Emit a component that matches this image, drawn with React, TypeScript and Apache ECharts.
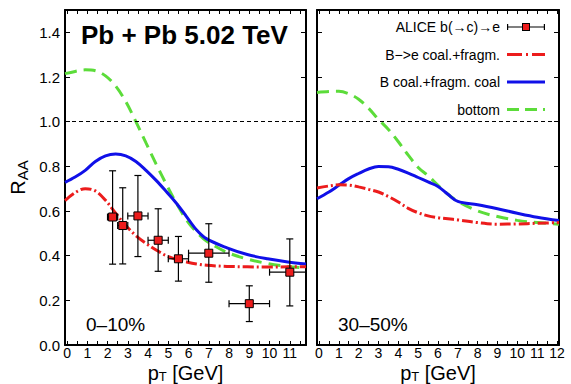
import React, { useEffect, useRef } from "react";
import * as echarts from "echarts";

const FONT = '"Liberation Sans", Arial, Helvetica, sans-serif';

// ---- Model curves, 0-10% (left panel) ----
const ptLeft = [-0.1, 0.4, 0.9, 1.4, 1.9, 2.4, 2.9, 3.4, 3.9, 4.4, 4.9, 5.4, 5.9, 6.4, 6.9, 7.9, 8.9, 9.9, 10.9, 11.8];
const bfragLeft = [0.647, 0.682, 0.7, 0.69, 0.648, 0.59, 0.535, 0.49, 0.455, 0.425, 0.4, 0.383, 0.372, 0.363, 0.357, 0.352, 0.35, 0.349, 0.35, 0.35];
const coalLeft = [0.728, 0.752, 0.782, 0.822, 0.847, 0.855, 0.847, 0.822, 0.782, 0.737, 0.687, 0.635, 0.575, 0.515, 0.475, 0.435, 0.405, 0.386, 0.372, 0.363];
const bottomLeft = [1.215, 1.225, 1.232, 1.228, 1.205, 1.16, 1.09, 1.0, 0.905, 0.81, 0.72, 0.635, 0.56, 0.505, 0.465, 0.415, 0.385, 0.365, 0.352, 0.345];

// ---- Model curves, 30-50% (right panel) ----
const ptRight = [-0.1, 0.5, 1, 1.5, 2, 2.5, 3, 3.5, 4, 4.5, 5, 5.5, 6, 6.5, 7, 8, 9, 10, 11, 12.1];
const bfragRight = [0.703, 0.712, 0.717, 0.716, 0.708, 0.697, 0.685, 0.665, 0.64, 0.612, 0.592, 0.578, 0.57, 0.565, 0.56, 0.548, 0.541, 0.542, 0.545, 0.548];
const coalRight = [0.655, 0.685, 0.715, 0.745, 0.768, 0.788, 0.799, 0.798, 0.787, 0.77, 0.75, 0.73, 0.71, 0.675, 0.643, 0.628, 0.61, 0.59, 0.572, 0.557];
const bottomRight = [1.131, 1.135, 1.136, 1.125, 1.1, 1.06, 1.01, 0.965, 0.91, 0.85, 0.795, 0.758, 0.715, 0.675, 0.643, 0.6, 0.575, 0.558, 0.548, 0.541];

// ---- ALICE b(->c)->e data, 0-10% ----
const alicePt = [2.25, 2.75, 3.5, 4.5, 5.5, 7, 9, 11];
const alicePtLow = [2, 2.5, 3, 4, 5, 6, 8, 10];
const alicePtHigh = [2.5, 3, 4, 5, 6, 8, 10, 12];
const aliceRaa = [0.573, 0.535, 0.578, 0.469, 0.386, 0.411, 0.185, 0.326];
const aliceRaaLow = [0.362, 0.363, 0.396, 0.33, 0.286, 0.281, 0.105, 0.175];
const aliceRaaHigh = [0.78, 0.704, 0.759, 0.61, 0.486, 0.543, 0.265, 0.475];

// ---- Axes ----
const xTickValues = [0, 0.5, 1, 1.5, 2, 2.5, 3, 3.5, 4, 4.5, 5, 5.5, 6, 6.5, 7, 7.5, 8, 8.5, 9, 9.5, 10, 10.5, 11, 11.5, 12];
const xLabelsLeft = [0, 1, 2, 3, 4, 5, 6, 7, 8, 9, 10, 11];
const xLabelsRight = [0, 1, 2, 3, 4, 5, 6, 7, 8, 9, 10, 11, 12];
const yTickValues = [0, 0.2, 0.4, 0.6, 0.8, 1.0, 1.2, 1.4];
const xRangeLeft = [-0.1, 11.8];
const xRangeRight = [-0.1, 12.1];
const yRange = [0, 1.5];

const NAME_ALICE = "ALICE b(\u2192c)\u2192e";
const NAME_BFRAG = "B\u2212>e coal.+fragm.";
const NAME_COAL = "B coal.+fragm. coal";
const NAME_BOTTOM = "bottom";

const RED = "#ec1c1c";
const BLUE = "#1010e8";
const GREEN = "#5cdc3a";

const DASH_RED = [11, 3, 2, 3];
const DASH_GREEN = [12, 7];

function svgIcon(inner: string) {
  const svg =
    '<svg xmlns="http://www.w3.org/2000/svg" width="38" height="14" viewBox="0 0 38 14">' + inner + "</svg>";
  return "image://data:image/svg+xml;charset=utf-8," + encodeURIComponent(svg);
}

const aliceIcon = svgIcon(
  '<g stroke="#000" stroke-width="1.2"><line x1="0.6" y1="7" x2="37.4" y2="7"/>' +
    '<line x1="0.6" y1="4" x2="0.6" y2="10"/><line x1="37.4" y1="4" x2="37.4" y2="10"/></g>' +
    '<rect x="15.5" y="3.5" width="7" height="7" fill="' + RED + '" stroke="#000" stroke-width="1"/>'
);
const redIcon = svgIcon(
  '<line x1="0" y1="7" x2="38" y2="7" stroke="' + RED + '" stroke-width="3" stroke-dasharray="15,4,2,4"/>'
);
const blueIcon = svgIcon('<line x1="0" y1="7" x2="38" y2="7" stroke="' + BLUE + '" stroke-width="3"/>');
const greenIcon = svgIcon(
  '<line x1="0" y1="7" x2="38" y2="7" stroke="' + GREEN + '" stroke-width="3" stroke-dasharray="12,6"/>'
);

function xAxis(gridIndex: number, range: number[], position: string, labels: number[] | null) {
  return {
    type: "value",
    gridIndex,
    min: range[0],
    max: range[1],
    position,
    axisLine: { show: true, onZero: false, lineStyle: { color: "#000", width: 2 } },
    axisTick: {
      show: true,
      inside: true,
      length: 4,
      customValues: xTickValues.filter((v) => v >= range[0] && v <= range[1]),
      lineStyle: { color: "#000", width: 1 },
    },
    axisLabel: labels
      ? {
          show: true,
          customValues: labels,
          formatter: (v: number) => String(v),
          color: "#000",
          fontSize: 14,
          lineHeight: 14,
          fontFamily: FONT,
          margin: 1,
        }
      : { show: false },
    splitLine: { show: false },
    ...(labels
      ? {
          name: "{p|p}{s|T}{p| [GeV]}",
          nameLocation: "middle",
          nameGap: 18,
          nameMoveOverlap: false,
          nameTextStyle: {
            rich: {
              p: { fontSize: 20, lineHeight: 20, fontFamily: FONT, color: "#000" },
              s: { fontSize: 13, lineHeight: 12, fontFamily: FONT, color: "#000", verticalAlign: "bottom" },
            },
          },
        }
      : {}),
  };
}

function yAxis(gridIndex: number, position: string, showLabels: boolean) {
  return {
    type: "value",
    gridIndex,
    min: yRange[0],
    max: yRange[1],
    position,
    axisLine: { show: true, onZero: false, lineStyle: { color: "#000", width: 2 } },
    axisTick: {
      show: true,
      inside: true,
      length: 5,
      customValues: yTickValues,
      lineStyle: { color: "#000", width: 1 },
    },
    axisLabel: showLabels
      ? {
          show: true,
          customValues: yTickValues,
          formatter: (v: number) => v.toFixed(1),
          color: "#000",
          fontSize: 15,
          fontFamily: FONT,
          margin: 5,
        }
      : { show: false },
    splitLine: { show: false },
    ...(showLabels
      ? {
          name: "{r|R}{s|AA}",
          nameLocation: "middle",
          nameRotate: 90,
          nameGap: 35,
          nameTextStyle: {
            rich: {
              r: { fontSize: 20, lineHeight: 24, fontFamily: FONT, color: "#000" },
              s: { fontSize: 15, lineHeight: 11, fontFamily: FONT, color: "#000", verticalAlign: "bottom" },
            },
          },
        }
      : {}),
  };
}

function curve(name: string, xs: number[], ys: number[], color: string, dash: any, xi: number, yi: number, extra: any = {}) {
  return {
    type: "line",
    name,
    xAxisIndex: xi,
    yAxisIndex: yi,
    data: xs.map((x, i) => [x, ys[i]]),
    smooth: 0.35,
    symbol: "none",
    showSymbol: false,
    clip: true,
    lineStyle: { color, width: 3, type: dash, cap: "butt" },
    itemStyle: { color },
    z: 3,
    ...extra,
  };
}

const unityLine = {
  silent: true,
  symbol: "none",
  label: { show: false },
  lineStyle: { color: "#000", width: 1, type: [4, 3] },
  data: [{ yAxis: 1.0 }],
};

export default function App() {
  const ref = useRef<HTMLDivElement>(null);

  useEffect(() => {
    if (!ref.current) return;
    const chart = echarts.init(ref.current, null, { renderer: "svg" });

    const errData = alicePt.map((x, i) => [x, aliceRaa[i], alicePtLow[i], alicePtHigh[i], aliceRaaLow[i], aliceRaaHigh[i]]);

    const option: any = {
      animation: false,
      backgroundColor: "#fff",
      textStyle: { fontFamily: FONT },
      grid: [
        { left: 65, top: 10, width: 241, height: 335, containLabel: false, outerBoundsMode: "none" },
        { left: 317, top: 10, width: 242, height: 335, containLabel: false, outerBoundsMode: "none" },
      ],
      xAxis: [
        xAxis(0, xRangeLeft, "bottom", xLabelsLeft),
        xAxis(0, xRangeLeft, "top", null),
        xAxis(1, xRangeRight, "bottom", xLabelsRight),
        xAxis(1, xRangeRight, "top", null),
      ],
      yAxis: [yAxis(0, "left", true), yAxis(0, "right", false), yAxis(1, "left", false), yAxis(1, "right", false)],
      legend: {
        orient: "vertical",
        align: "right",
        right: 21,
        top: 15,
        itemWidth: 38,
        itemHeight: 14,
        itemGap: 13.5,
        textStyle: { fontSize: 14, fontFamily: FONT, color: "#000", padding: [0, 2, 0, 0] },
        selectedMode: false,
        data: [
          { name: NAME_ALICE, icon: aliceIcon },
          { name: NAME_BFRAG, icon: redIcon },
          { name: NAME_COAL, icon: blueIcon },
          { name: NAME_BOTTOM, icon: greenIcon },
        ],
      },
      graphic: [
        {
          type: "text",
          left: 81,
          top: 22,
          style: { text: "Pb + Pb 5.02 TeV", font: "bold 26px " + FONT, fill: "#000" },
        },
        {
          type: "text",
          x: 86,
          y: 324,
          style: { text: "0\u201310%", font: "19px " + FONT, fill: "#000", verticalAlign: "middle" },
        },
        {
          type: "text",
          x: 338,
          y: 324,
          style: { text: "30\u201350%", font: "19px " + FONT, fill: "#000", verticalAlign: "middle" },
        },
      ],
      series: [
        curve(NAME_BOTTOM, ptLeft, bottomLeft, GREEN, DASH_GREEN, 0, 0, { markLine: unityLine }),
        curve(NAME_COAL, ptLeft, coalLeft, BLUE, "solid", 0, 0),
        curve(NAME_BFRAG, ptLeft, bfragLeft, RED, DASH_RED, 0, 0),
        {
          type: "custom",
          name: "ALICE errors",
          xAxisIndex: 0,
          yAxisIndex: 0,
          data: errData,
          encode: { x: [0, 2, 3], y: [1, 4, 5] },
          z: 5,
          renderItem: (params: any, api: any) => {
            const x = api.value(0);
            const y = api.value(1);
            const c = api.coord([x, y]);
            const l = api.coord([api.value(2), y]);
            const r = api.coord([api.value(3), y]);
            const b = api.coord([x, api.value(4)]);
            const t = api.coord([x, api.value(5)]);
            const cs = params.coordSys;
            const xMaxPx = cs.x + cs.width;
            const clippedR = r[0] > xMaxPx;
            const rx = clippedR ? xMaxPx : r[0];
            const cap = 3.5;
            const st = { stroke: "#000", lineWidth: 1.2 };
            const children: any[] = [
              { type: "line", shape: { x1: l[0], y1: c[1], x2: rx, y2: c[1] }, style: st },
              { type: "line", shape: { x1: c[0], y1: b[1], x2: c[0], y2: t[1] }, style: st },
              { type: "line", shape: { x1: l[0], y1: c[1] - cap, x2: l[0], y2: c[1] + cap }, style: st },
              { type: "line", shape: { x1: c[0] - cap, y1: b[1], x2: c[0] + cap, y2: b[1] }, style: st },
              { type: "line", shape: { x1: c[0] - cap, y1: t[1], x2: c[0] + cap, y2: t[1] }, style: st },
            ];
            if (!clippedR) {
              children.push({ type: "line", shape: { x1: rx, y1: c[1] - cap, x2: rx, y2: c[1] + cap }, style: st });
            }
            return { type: "group", children };
          },
        },
        {
          type: "scatter",
          name: NAME_ALICE,
          xAxisIndex: 0,
          yAxisIndex: 0,
          data: alicePt.map((x, i) => [x, aliceRaa[i]]),
          symbol: "rect",
          symbolSize: 8,
          itemStyle: { color: RED, borderColor: "#000", borderWidth: 1, opacity: 1 },
          z: 6,
        },
        curve(NAME_BOTTOM, ptRight, bottomRight, GREEN, DASH_GREEN, 2, 2, { markLine: unityLine }),
        curve(NAME_COAL, ptRight, coalRight, BLUE, "solid", 2, 2),
        curve(NAME_BFRAG, ptRight, bfragRight, RED, DASH_RED, 2, 2),
      ],
    };

    chart.setOption(option);
    return () => {
      chart.dispose();
    };
  }, []);

  return (
    <div
      ref={ref}
      style={{ position: "fixed", left: 0, top: 0, width: 571, height: 384, background: "#fff" }}
    />
  );
}
